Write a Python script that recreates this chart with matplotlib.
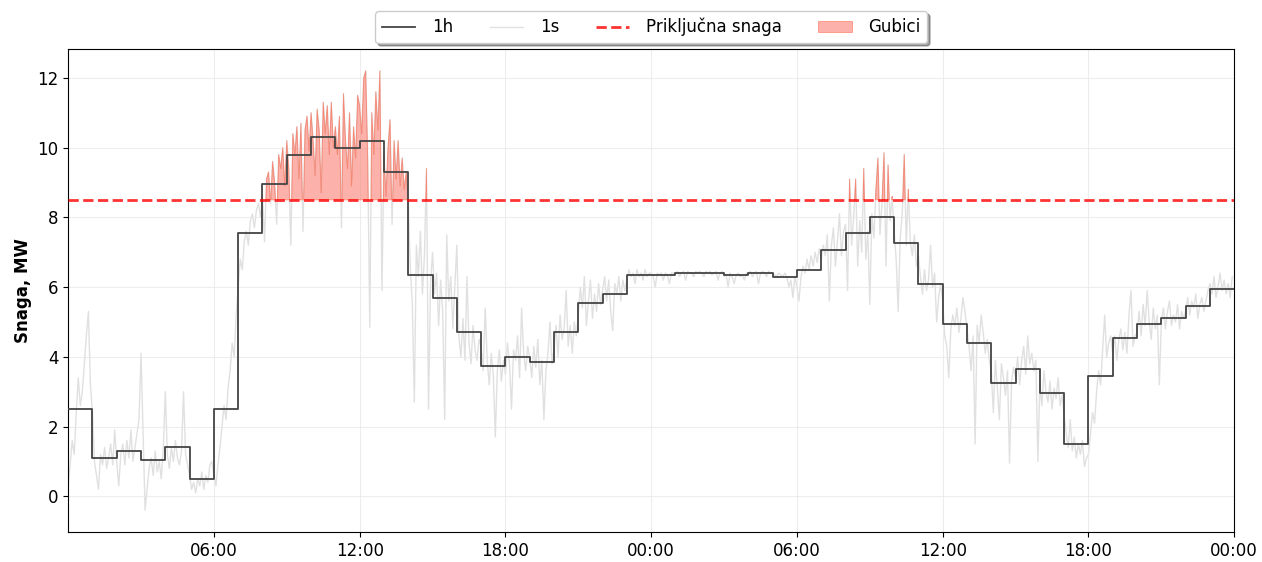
import matplotlib
matplotlib.use("Agg")
import matplotlib.pyplot as plt
from matplotlib.ticker import FixedLocator
import numpy as np

# hourly averages (MW), hour 0 .. 47
snaga_1h = [2.5, 1.1, 1.3, 1.05, 1.4, 0.5, 2.5, 7.55, 8.95, 9.8, 10.3, 10.0,
            10.2, 9.3, 6.35, 5.7, 4.7, 3.75, 4.0, 3.85, 4.7, 5.55, 5.8, 6.35,
            6.35, 6.4, 6.4, 6.35, 6.4, 6.3, 6.5, 7.05, 7.55, 8.0, 7.25, 6.1,
            4.95, 4.4, 3.25, 3.65, 2.95, 1.5, 3.45, 4.55, 4.95, 5.1, 5.45, 5.95]

snaga_1s = [
    [0.3, 0.9, 1.6, 1.2, 2.4, 3.4, 2.6, 3.0, 3.8, 4.6, 5.3, 3.2],
    [2.4, 1.0, 0.6, 0.2, 1.2, 0.9, 1.4, 0.8, 1.1, 1.5, 0.9, 1.9],
    [1.0, 0.3, 1.2, 1.5, 0.9, 1.6, 1.1, 1.9, 1.0, 1.4, 1.8, 2.2],
    [4.1, 1.8, -0.4, 0.2, 0.8, 1.1, 0.6, 1.3, 0.7, 1.0, 0.5, 1.4],
    [3.0, 1.2, 0.8, 1.4, 1.0, 1.6, 1.1, 0.9, 1.3, 3.0, 1.2, 0.9],
    [0.6, 0.2, 0.4, 0.1, 0.5, 0.3, 0.7, 0.2, 0.6, 0.4, 0.9, 1.0],
    [0.6, 0.3, 0.9, 1.4, 2.0, 2.6, 2.2, 3.1, 3.6, 4.4, 4.0, 5.2],
    [6.0, 6.8, 6.5, 7.3, 7.6, 7.2, 7.9, 8.1, 7.7, 8.2, 8.4, 8.0],
    [8.6, 7.3, 9.1, 9.3, 8.4, 9.6, 9.0, 7.8, 9.8, 9.4, 10.0, 8.9],
    [10.2, 9.4, 7.2, 10.4, 9.8, 10.6, 9.1, 10.7, 7.6, 10.5, 10.9, 9.9],
    [11.0, 10.2, 9.2, 11.1, 10.5, 8.7, 11.3, 10.4, 11.2, 9.8, 11.3, 10.0],
    [10.6, 9.8, 10.9, 7.7, 11.55, 10.2, 9.4, 11.0, 8.9, 10.6, 9.7, 11.5],
    [11.2, 10.4, 12.0, 12.2, 9.6, 4.85, 11.0, 9.8, 11.6, 10.5, 12.2, 5.9],
    [9.8, 8.6, 10.0, 10.8, 7.8, 10.2, 9.1, 10.2, 8.9, 9.7, 8.8, 9.3],
    [8.4, 6.6, 5.5, 2.7, 7.2, 6.3, 7.6, 5.8, 6.9, 9.4, 2.5, 6.1],
    [7.0, 5.8, 6.4, 4.9, 6.2, 5.3, 2.2, 7.5, 5.6, 6.3, 4.8, 6.0],
    [7.2, 4.6, 4.0, 5.1, 3.9, 6.3, 4.4, 3.8, 4.9, 4.2, 3.9, 4.5],
    [4.3, 3.6, 5.4, 3.9, 3.2, 4.1, 3.5, 1.7, 3.6, 4.2, 3.3, 3.9],
    [3.5, 4.4, 3.8, 2.5, 4.2, 3.9, 4.6, 3.4, 5.4, 4.1, 3.6, 4.3],
    [4.0, 3.4, 4.3, 3.7, 4.5, 3.2, 3.9, 2.2, 3.6, 4.1, 5.0, 3.8],
    [4.2, 4.9, 4.0, 5.2, 4.5, 4.8, 5.9, 4.3, 4.9, 4.1, 5.0, 4.6],
    [5.2, 6.0, 5.4, 6.3, 4.9, 5.6, 6.2, 5.1, 5.8, 5.3, 6.1, 5.5],
    [5.9, 6.3, 5.6, 6.2, 5.3, 4.75, 6.1, 5.8, 6.3, 5.6, 6.2, 5.9],
    [6.2, 6.5, 6.3, 6.4, 6.1, 6.5, 6.3, 6.4, 6.2, 6.5, 6.3, 6.4],
    [6.4, 6.3, 6.0, 6.4, 6.35, 6.4, 6.2, 6.4, 6.35, 6.1, 6.4, 6.4],
    [6.4, 6.45, 6.3, 6.4, 6.45, 6.2, 6.45, 6.4, 6.4, 6.3, 6.45, 6.4],
    [6.45, 6.4, 6.3, 6.45, 6.4, 6.45, 6.35, 6.4, 6.45, 6.2, 6.4, 6.45],
    [6.3, 6.35, 6.0, 6.4, 6.3, 6.1, 6.35, 6.4, 6.3, 6.35, 6.2, 6.4],
    [6.4, 6.45, 6.3, 6.4, 6.45, 6.1, 6.4, 6.45, 6.4, 6.3, 6.45, 6.4],
    [6.4, 6.35, 6.3, 6.4, 6.35, 6.3, 6.4, 6.3, 6.0, 6.2, 5.7, 6.3],
    [6.0, 5.6, 6.3, 6.6, 6.4, 6.8, 6.5, 6.9, 6.6, 7.0, 6.7, 7.1],
    [6.8, 7.2, 6.9, 7.5, 5.6, 7.2, 7.7, 6.6, 7.3, 8.1, 6.9, 7.6],
    [7.8, 5.9, 9.1, 7.2, 8.0, 9.1, 6.6, 7.9, 7.0, 9.4, 6.8, 7.6],
    [5.5, 8.1, 7.4, 8.8, 9.7, 7.5, 8.4, 9.85, 6.6, 9.5, 7.9, 8.6],
    [7.6, 6.8, 5.3, 7.4, 8.1, 9.8, 7.2, 8.8, 7.3, 6.9, 7.5, 6.6],
    [6.9, 6.3, 5.8, 6.5, 5.9, 6.2, 7.2, 6.0, 6.4, 5.0, 5.7, 6.1],
    [5.6, 4.6, 4.3, 3.4, 4.8, 5.2, 4.9, 5.4, 4.7, 5.1, 5.7, 5.3],
    [4.8, 4.3, 3.6, 4.6, 1.5, 4.9, 4.4, 5.2, 4.7, 4.1, 4.5, 3.9],
    [3.6, 2.4, 3.9, 3.1, 2.2, 3.8, 3.4, 2.9, 3.6, 0.95, 3.3, 3.7],
    [3.4, 4.0, 3.2, 3.9, 4.3, 3.5, 4.6, 3.8, 4.1, 3.6, 3.9, 1.0],
    [3.2, 2.6, 3.6, 3.0, 2.7, 3.3, 2.5, 3.1, 2.8, 3.4, 2.6, 2.9],
    [2.3, 1.8, 1.4, 2.2, 1.3, 1.7, 1.1, 1.5, 1.2, 1.6, 0.85, 1.1],
    [1.2, 1.8, 2.4, 2.1, 3.0, 3.6, 3.2, 4.2, 5.2, 4.0, 4.4, 4.6],
    [4.1, 4.6, 3.9, 4.5, 4.8, 4.2, 4.7, 4.1, 5.2, 5.9, 4.3, 4.6],
    [4.7, 5.3, 4.6, 5.5, 4.9, 5.9, 5.0, 4.5, 5.4, 4.8, 5.2, 3.2],
    [5.0, 5.4, 4.8, 5.3, 5.6, 4.9, 5.2, 5.0, 5.5, 4.8, 5.3, 5.1],
    [5.3, 5.7, 5.2, 5.6, 5.4, 5.8, 5.1, 5.5, 5.7, 5.3, 5.6, 5.9],
    [6.1, 5.8, 6.3, 5.7, 6.0, 6.4, 5.9, 6.2, 5.8, 6.1, 5.7, 6.3],
]

prikljucna_snaga = 8.5
tick_hours = [6, 12, 18, 24, 30, 36, 42, 48]
tick_labels = ["06:00", "12:00", "18:00", "00:00", "06:00", "12:00", "18:00", "00:00"]

v1s = np.array(snaga_1s).ravel()
t1s = np.arange(len(v1s)) / 12.0
t1h = np.arange(len(snaga_1h) + 1)
v1h = snaga_1h + [snaga_1h[-1]]

plt.rcParams['font.size'] = 12

fig = plt.figure(figsize=(12.62, 5.62), dpi=100)
ax = fig.add_axes([0.054, 0.053, 0.924, 0.86])

ax.plot(t1s, v1s, color='#d9d9d9', lw=1.0, alpha=0.8, label='1s', zorder=1)
ax.step(t1h, v1h, where='post', color='#444444', lw=1.3, label='1h', zorder=4)
ax.axhline(prikljucna_snaga, color='red', ls='--', lw=2, alpha=0.8,
           label='Priključna snaga', zorder=5)
ax.fill_between(t1s, v1s, prikljucna_snaga, where=v1s > prikljucna_snaga,
                interpolate=True, facecolor='salmon', edgecolor='tomato',
                lw=0.6, alpha=0.6, label='Gubici', zorder=3)

ax.set_xlim(0, 48)
ax.set_ylim(-1.03, 12.83)
ax.xaxis.set_major_locator(FixedLocator(tick_hours))
ax.set_xticklabels(tick_labels)
ax.set_yticks(range(0, 13, 2))
ax.grid(True, color='#e6e6e6', lw=0.8, alpha=0.7)
ax.set_ylabel('Snaga, MW', fontweight='bold')

handles, labels = ax.get_legend_handles_labels()
order = [labels.index(n) for n in ['1h', '1s', 'Priključna snaga', 'Gubici']]
ax.legend([handles[i] for i in order], [labels[i] for i in order],
          loc='lower center', bbox_to_anchor=(0.5, 1.012), ncol=4,
          shadow=True, frameon=True, borderaxespad=0,
          columnspacing=2.2, handletextpad=1.0)

fig.savefig('out.png', dpi=100, facecolor='white')
